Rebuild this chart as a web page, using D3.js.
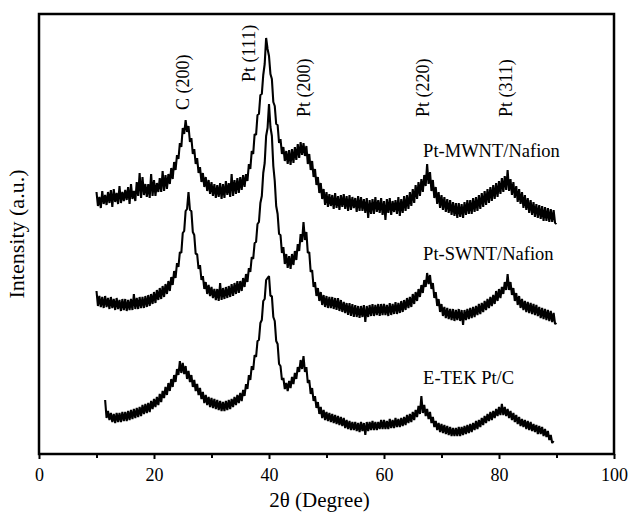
<!DOCTYPE html>
<html lang="en">
<head>
<meta charset="UTF-8">
<script src="https://cdnjs.cloudflare.com/ajax/libs/d3/7.8.5/d3.min.js"></script>
<style>
    body { margin: 0; background: #fff; }
    text { font-family: "Liberation Serif", "Times New Roman", serif; fill: #000; }
</style>
</head>
<body>
<svg id="chart" width="629" height="513"></svg>
<script>
// tick labels
const xTicks = [0, 20, 40, 60, 80, 100];
const xMinorTicks = [10, 30, 50, 70, 90];

// peak annotations (2θ where each label sits, label bottom in a.u.)
const peakLabels = ['C (200)', 'Pt (111)', 'Pt (200)', 'Pt (220)', 'Pt (311)'];
const peakAngles = [26.1, 37.6, 47.1, 67.8, 82.3];
const peakLabelLevel = [344, 372, 337, 337, 337];

// series names, label level in a.u.
const seriesNames = ['Pt-MWNT/Nafion', 'Pt-SWNT/Nafion', 'E-TEK Pt/C'];
const seriesLabelLevel = [297, 194, 70];

// scans, one reading every 0.25 degree from the start angle (4 per row)
const scanStep = 0.25;
const mwntStart = 10;
const mwnt = [
    262, 248, 257, 246,  263, 250, 259, 249,  262, 251, 264, 247,  265, 252, 261, 250,   // 10-13
    268, 251, 262, 253,  264, 254, 267, 250,  270, 255, 263, 253,  272, 258, 281, 256,   // 14-17
    277, 259, 270, 257,  270, 256, 280, 258,  274, 258, 271, 262,  276, 262, 283, 263,   // 18-21
    279, 265, 280, 270,  286, 275, 292, 284,  299, 295, 311, 307,  326, 320, 334, 322,   // 22-25
    328, 312, 316, 300,  305, 290, 296, 281,  287, 272, 281, 267,  277, 263, 274, 260,   // 26-29
    272, 258, 270, 256,  269, 257, 271, 255,  270, 256, 273, 259,  271, 257, 280, 258,   // 30-33
    274, 260, 276, 261,  277, 264, 279, 267,  280, 273, 290, 285,  303, 300, 320, 319,   // 34-37
    339, 340, 359, 360,  379, 390, 416, 405,  398, 380, 375, 352,  348, 330, 329, 311,   // 38-41
    315, 300, 307, 293,  303, 290, 304, 289,  305, 291, 307, 294,  310, 296, 312, 299,   // 42-45
    311, 298, 308, 290,  300, 284, 293, 277,  285, 269, 277, 261,  271, 255, 265, 249,   // 46-49
    262, 247, 260, 248,  259, 245, 261, 246,  258, 244, 259, 247,  260, 245, 258, 243,   // 50-53
    259, 244, 257, 246,  256, 242, 258, 243,  257, 243, 255, 241,  256, 236, 254, 240,   // 54-57
    255, 240, 257, 242,  254, 241, 256, 239,  253, 234, 255, 241,  256, 239, 253, 242,   // 58-61
    254, 240, 257, 238,  255, 241, 258, 243,  259, 245, 262, 248,  265, 251, 269, 255,   // 62-65
    272, 258, 275, 262,  279, 268, 290, 270,  282, 263, 274, 256,  267, 250, 262, 246,   // 66-69
    259, 244, 257, 242,  255, 241, 254, 239,  252, 238, 251, 236,  251, 237, 250, 236,   // 70-73
    252, 239, 254, 240,  254, 240, 256, 242,  257, 243, 259, 245,  261, 247, 263, 249,   // 74-77
    265, 251, 267, 253,  269, 255, 271, 257,  273, 260, 276, 262,  278, 264, 284, 263,   // 78-81
    275, 259, 272, 256,  268, 252, 265, 250,  262, 246, 259, 244,  256, 241, 254, 239,   // 82-85
    252, 237, 250, 236,  249, 235, 248, 233,  247, 233, 246, 232,  245, 232, 244, 231,   // 86-89
    230                                                                                  // 90
];
const swntStart = 10;
const swnt = [
    163, 148, 158, 147,  157, 146, 158, 147,  156, 145, 157, 146,  155, 144, 156, 145,   // 10-13
    154, 143, 155, 144,  155, 143, 154, 144,  155, 144, 160, 145,  156, 145, 157, 146,   // 14-17
    157, 146, 158, 147,  159, 148, 160, 150,  162, 151, 164, 154,  166, 155, 168, 157,   // 18-21
    170, 160, 173, 163,  177, 169, 183, 176,  191, 187, 202, 201,  221, 223, 243, 245,   // 22-25
    262, 244, 243, 222,  219, 200, 200, 185,  189, 174, 178, 165,  172, 160, 169, 158,   // 26-29
    167, 156, 165, 154,  165, 153, 171, 154,  166, 155, 167, 156,  168, 157, 170, 158,   // 30-33
    171, 160, 173, 161,  173, 163, 176, 167,  180, 172, 186, 182,  197, 195, 211, 212,   // 34-37
    230, 232, 251, 258,  281, 291, 318, 326,  350, 327, 318, 288,  273, 248, 240, 220,   // 38-41
    219, 201, 207, 190,  200, 186, 198, 185,  200, 189, 203, 194,  210, 203, 220, 212,   // 42-45
    232, 214, 222, 201,  202, 182, 184, 167,  172, 158, 166, 153,  162, 149, 159, 147,   // 46-49
    158, 146, 157, 146,  157, 145, 156, 144,  156, 143, 154, 142,  152, 141, 151, 139,   // 50-53
    151, 138, 150, 137,  149, 137, 148, 136,  148, 137, 149, 132,  148, 137, 149, 138,   // 54-57
    150, 138, 149, 139,  150, 138, 150, 139,  150, 139, 149, 138,  151, 139, 150, 140,   // 58-61
    152, 140, 151, 141,  153, 142, 154, 144,  156, 146, 157, 147,  160, 150, 162, 153,   // 62-65
    165, 157, 169, 161,  174, 167, 181, 170,  179, 165, 171, 156,  162, 148, 155, 142,   // 66-69
    150, 138, 147, 136,  146, 135, 145, 134,  145, 133, 144, 134,  145, 133, 144, 129,   // 70-73
    144, 134, 145, 135,  146, 136, 147, 137,  148, 139, 150, 140,  151, 142, 153, 144,   // 74-77
    155, 146, 157, 148,  159, 150, 163, 153,  165, 156, 167, 160,  172, 164, 180, 164,   // 78-81
    172, 159, 166, 153,  161, 149, 158, 146,  155, 144, 153, 142,  152, 141, 151, 140,   // 82-85
    150, 139, 149, 138,  147, 136, 146, 135,  145, 134, 144, 133,  143, 132, 141, 130,   // 86-89
    131                                                                                  // 90
];
const etekStart = 11.5;
const etek = [
                54, 36,  43, 34, 41, 32,  40, 31, 41, 32,  41, 32, 42, 33,           // 11.5-14
    42, 33, 43, 34,  44, 35, 45, 36,  46, 37, 47, 38,  49, 40, 50, 41,               // 15-18
    51, 42, 53, 45,  55, 47, 57, 49,  60, 52, 63, 56,  67, 59, 71, 63,               // 19-22
    75, 67, 79, 72,  85, 79, 93, 81,  91, 80, 88, 75,  83, 72, 79, 67,               // 23-26
    74, 63, 70, 59,  66, 55, 62, 51,  59, 49, 57, 47,  56, 46, 55, 45,               // 27-30
    54, 44, 53, 43,  52, 43, 53, 44,  54, 45, 55, 47,  57, 49, 59, 51,               // 31-34
    61, 53, 64, 58,  70, 65, 79, 74,  88, 84, 99, 97,  113, 114, 131, 134,           // 35-38
    153, 155, 174, 176,  178, 158, 158, 137,  133, 113, 110, 90,  88, 74, 76, 65,    // 39-42
    71, 63, 73, 66,  77, 70, 81, 75,  87, 82, 94, 85,  98, 82, 87, 71,               // 43-46
    74, 60, 66, 53,  58, 46, 52, 40,  47, 36, 44, 34,  42, 33, 41, 32,               // 47-50
    40, 31, 39, 30,  38, 29, 37, 28,  36, 26, 34, 25,  33, 24, 32, 24,               // 51-54
    32, 23, 31, 22,  32, 23, 31, 19,  32, 23, 32, 24,  33, 24, 32, 24,               // 55-58
    32, 25, 34, 25,  34, 25, 33, 25,  35, 26, 34, 26,  36, 27, 35, 27,               // 59-62
    36, 28, 37, 29,  39, 31, 40, 32,  42, 34, 44, 37,  48, 40, 58, 41,               // 63-66
    49, 38, 45, 35,  42, 31, 37, 27,  33, 24, 31, 22,  30, 21, 29, 20,               // 67-70
    28, 19, 27, 18,  26, 18, 26, 18,  27, 18, 27, 19,  28, 20, 29, 21,               // 71-74
    30, 22, 31, 24,  33, 25, 34, 27,  36, 29, 38, 31,  40, 33, 42, 34,               // 75-78
    43, 36, 45, 38,  47, 39, 50, 39,  47, 38, 45, 36,  43, 34, 41, 32,               // 79-82
    39, 30, 37, 28,  35, 27, 34, 25,  33, 24, 32, 23,  30, 22, 29, 20,               // 83-86
    28, 20, 27, 18,  25, 17, 23, 14,  19, 11, 13                                     // 87-89.5
];

const scans = [
    { start: mwntStart, values: mwnt },
    { start: swntStart, values: swnt },
    { start: etekStart, values: etek }
];

const svg = d3.select('#chart');
const mLeft = 39, mRight = 614, mTop = 14, mBottom = 454;

const xScale = d3.scaleLinear().domain([0, 100]).range([mLeft, mRight]);
const yScale = d3.scaleLinear().domain([0, 440]).range([mBottom, mTop]);

const scanLine = d3.line()
    .x(d => xScale(d[0]))
    .y(d => yScale(d[1]));

scans.forEach(s => {
    const pts = s.values.map((v, i) => [s.start + i * scanStep, v]);
    svg.append('path')
        .attr('d', scanLine(pts))
        .attr('fill', 'none')
        .attr('stroke', '#000')
        .attr('stroke-width', 2.1)
        .attr('stroke-linejoin', 'bevel');
});

// minor ticks
svg.append('g')
    .attr('transform', `translate(0,${mBottom})`)
    .call(d3.axisBottom(xScale).tickValues(xMinorTicks).tickSize(4).tickFormat(''))
    .call(g => g.select('.domain').remove())
    .call(g => g.selectAll('line').attr('stroke-width', 2));

// major ticks
svg.append('g')
    .attr('transform', `translate(0,${mBottom})`)
    .call(d3.axisBottom(xScale).tickValues(xTicks).tickSize(5).tickPadding(9).tickFormat(d3.format('d')))
    .call(g => g.select('.domain').remove())
    .call(g => g.selectAll('line').attr('stroke-width', 2))
    .call(g => g.selectAll('text')
        .attr('font-family', '"Liberation Serif", serif')
        .attr('font-size', 18)
        .attr('fill', '#000'));

// frame
svg.append('rect')
    .attr('x', mLeft).attr('y', mTop)
    .attr('width', mRight - mLeft).attr('height', mBottom - mTop)
    .attr('fill', 'none')
    .attr('stroke', '#000')
    .attr('stroke-width', 2.5);

// peak labels
svg.selectAll('.peak')
    .data(peakLabels)
    .enter().append('text')
    .attr('class', 'peak')
    .attr('transform', (d, i) => `translate(${xScale(peakAngles[i])},${yScale(peakLabelLevel[i])}) rotate(-90)`)
    .attr('font-size', 18)
    .text(d => d);

// series labels
svg.selectAll('.series')
    .data(seriesNames)
    .enter().append('text')
    .attr('class', 'series')
    .attr('x', xScale(66.8))
    .attr('y', (d, i) => yScale(seriesLabelLevel[i]))
    .attr('font-size', 18.5)
    .text(d => d);

// axis titles
svg.append('text')
    .attr('x', (mLeft + mRight) / 2 - 7)
    .attr('y', 507)
    .attr('text-anchor', 'middle')
    .attr('font-size', 21)
    .text('2θ (Degree)');

svg.append('text')
    .attr('transform', `translate(24,${(mTop + mBottom) / 2}) rotate(-90)`)
    .attr('text-anchor', 'middle')
    .attr('font-size', 22)
    .text('Intensity (a.u.)');
</script>
</body>
</html>
